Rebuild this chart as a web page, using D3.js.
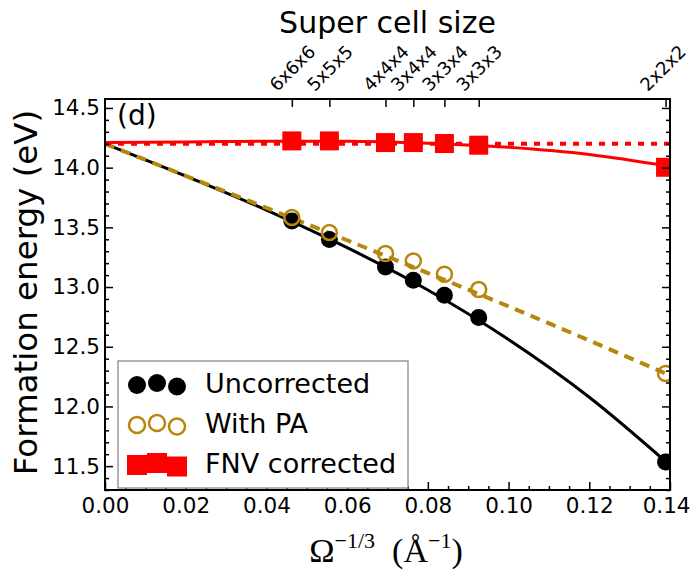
<!DOCTYPE html>
<html>
<head>
<meta charset="utf-8">
<script src="https://cdn.jsdelivr.net/npm/d3@7"></script>
<style>
  html, body { margin: 0; padding: 0; background: #fff; }
  svg { display: block; }
  text { font-family: "DejaVu Sans", sans-serif; fill: #000; }
</style>
</head>
<body>
<svg id="chart" width="691" height="576"></svg>
<script>
// Super cells and their inverse cell length Ω^(-1/3) (Å^-1)
const supercells = ["6x6x6", "5x5x5", "4x4x4", "3x4x4", "3x3x4", "3x3x3", "2x2x2"];
const invCellLength = [0.0463, 0.0556, 0.0695, 0.0764, 0.0841, 0.0926, 0.1389];

// Formation energies (eV)
const uncorrected  = [13.554, 13.398, 13.168, 13.057, 12.931, 12.745, 11.535];
const withPA       = [13.582, 13.456, 13.281, 13.219, 13.107, 12.979, 12.276];
const fnvCorrected = [14.224, 14.224, 14.210, 14.210, 14.202, 14.188, 14.003];

// Fitted curves, sampled along Ω^(-1/3)
const fitX           = [0, 0.02, 0.04, 0.06, 0.08, 0.10, 0.12, 0.14];
const uncorrectedFit = [14.200, 13.930, 13.645, 13.330, 12.975, 12.560, 12.077, 11.507];
const withPAFit      = [14.200, 13.932, 13.663, 13.392, 13.117, 12.838, 12.552, 12.260];
const fnvFit         = [14.210, 14.215, 14.222, 14.222, 14.205, 14.170, 14.110, 14.010];
const extrapolatedX  = [0, 0.14];
const extrapolatedE  = [14.2, 14.2];

// Axis ticks
const xTicks = [0, 0.02, 0.04, 0.06, 0.08, 0.10, 0.12, 0.14];
const yTicks = [11.5, 12.0, 12.5, 13.0, 13.5, 14.0, 14.5];

const svg = d3.select("#chart");
const W = 691;
const L = 105, R = 670, T = 99, B = 490;

const x = d3.scaleLinear().domain([0, 0.14]).range([L, R]);
const y = d3.scaleLinear().domain([11.3, 14.575]).range([B, T]);

const xMinor = d3.range(0, 0.1401, 0.005).filter(v => !xTicks.some(t => Math.abs(t - v) < 1e-9));
const yMinor = d3.range(11.3, 14.5501, 0.1).map(v => +v.toFixed(2)).filter(v => !yTicks.some(t => Math.abs(t - v) < 1e-9));

svg.append("defs").append("clipPath").attr("id", "plotClip")
  .append("rect").attr("x", L).attr("y", T).attr("width", R - L).attr("height", B - T);

const plot = svg.append("g").attr("clip-path", "url(#plotClip)");

const line = d3.line().curve(d3.curveMonotoneX);
const pts = (xs, ys) => xs.map((v, i) => [x(v), y(ys[i])]);

// Fit curves
plot.append("path").attr("d", line(pts(fitX, uncorrectedFit)))
  .attr("fill", "none").attr("stroke", "#000").attr("stroke-width", 3);
plot.append("path").attr("d", line(pts(fitX, withPAFit)))
  .attr("fill", "none").attr("stroke", "#b8860b").attr("stroke-width", 4)
  .attr("stroke-dasharray", "10,7");
plot.append("path").attr("d", line(pts(extrapolatedX, extrapolatedE)))
  .attr("fill", "none").attr("stroke", "#ff0000").attr("stroke-width", 4)
  .attr("stroke-dasharray", "6,7");
plot.append("path").attr("d", line(pts(fitX, fnvFit)))
  .attr("fill", "none").attr("stroke", "#ff0000").attr("stroke-width", 3);

// Markers
plot.selectAll("circle.unc").data(uncorrected).join("circle").attr("class", "unc")
  .attr("cx", (d, i) => x(invCellLength[i])).attr("cy", d => y(d))
  .attr("r", 8.5).attr("fill", "#000");
plot.selectAll("circle.pa").data(withPA).join("circle").attr("class", "pa")
  .attr("cx", (d, i) => x(invCellLength[i])).attr("cy", d => y(d))
  .attr("r", 7.5).attr("fill", "none").attr("stroke", "#b8860b").attr("stroke-width", 2.5);
const sq = 19;
plot.selectAll("rect.fnv").data(fnvCorrected).join("rect").attr("class", "fnv")
  .attr("x", (d, i) => x(invCellLength[i]) - sq / 2).attr("y", d => y(d) - sq / 2)
  .attr("width", sq).attr("height", sq).attr("fill", "#ff0000");

// Axes (ticks pointing inward)
const styleAxis = g => {
  g.select(".domain").remove();
  g.selectAll(".tick line").attr("stroke", "#000").attr("stroke-width", 1.5);
  g.selectAll(".tick text").attr("font-size", 21.5).attr("font-family", "DejaVu Sans");
};

const bottomAxis = svg.append("g").attr("transform", `translate(0,${B})`)
  .call(d3.axisBottom(x).tickValues(xTicks).tickFormat(d3.format(".2f")).tickSize(-8).tickSizeOuter(0).tickPadding(8))
  .call(styleAxis);
// keep the last label inside the page
bottomAxis.selectAll(".tick text").each(function (d) {
  const t = d3.select(this);
  const box = this.getBBox();
  const right = x(d) + box.x + box.width;
  if (right > W - 1) t.attr("x", (W - 1) - right);
});
svg.append("g").attr("transform", `translate(0,${B})`)
  .call(d3.axisBottom(x).tickValues(xMinor).tickFormat("").tickSize(-4).tickSizeOuter(0))
  .call(styleAxis);

svg.append("g").attr("transform", `translate(${L},0)`)
  .call(d3.axisLeft(y).tickValues(yTicks).tickFormat(d3.format(".1f")).tickSize(-8).tickSizeOuter(0).tickPadding(5))
  .call(styleAxis);
svg.append("g").attr("transform", `translate(${L},0)`)
  .call(d3.axisLeft(y).tickValues(yMinor).tickFormat("").tickSize(-4).tickSizeOuter(0))
  .call(styleAxis);

svg.append("g").attr("transform", `translate(${R},0)`)
  .call(d3.axisRight(y).tickValues(yTicks).tickFormat("").tickSize(-8).tickSizeOuter(0))
  .call(styleAxis);
svg.append("g").attr("transform", `translate(${R},0)`)
  .call(d3.axisRight(y).tickValues(yMinor).tickFormat("").tickSize(-4).tickSizeOuter(0))
  .call(styleAxis);

// Top axis: super cell sizes, labels rotated 45°
const topAxis = svg.append("g").attr("transform", `translate(0,${T})`)
  .call(d3.axisTop(x).tickValues(invCellLength).tickFormat((d, i) => supercells[i]).tickSize(-8).tickSizeOuter(0))
  .call(styleAxis);
topAxis.selectAll(".tick text")
  .attr("font-size", 18)
  .attr("text-anchor", "middle")
  .attr("dy", "0.35em")
  .attr("y", 0)
  .attr("transform", "translate(0,-31) rotate(-45)")
  .each(function (d) {
    const r = this.getBoundingClientRect();
    if (r.right > W - 1) {
      d3.select(this).attr("transform", `translate(${(W - 1) - r.right},-31) rotate(-45)`);
    }
  });

// Frame
svg.append("rect").attr("x", L).attr("y", T).attr("width", R - L).attr("height", B - T)
  .attr("fill", "none").attr("stroke", "#000").attr("stroke-width", 2);

// Titles and labels
svg.append("text").attr("x", (L + R) / 2).attr("y", 33).attr("text-anchor", "middle")
  .attr("font-size", 30).text("Super cell size");

svg.append("text").attr("transform", `translate(37,${(T + B) / 2 - 2}) rotate(-90)`)
  .attr("text-anchor", "middle").attr("font-size", 32.5).text("Formation energy (eV)");

svg.append("text").attr("x", 117).attr("y", 125).attr("font-size", 28).text("(d)");

const xl = svg.append("text").attr("x", 386).attr("y", 562).attr("text-anchor", "middle")
  .style("font-family", "'Liberation Serif', 'DejaVu Serif', serif").attr("font-size", 34);
xl.append("tspan").text("Ω");
xl.append("tspan").attr("font-size", 22).attr("dy", -14).text("−1/3");
xl.append("tspan").attr("dy", 14).text("\u2002(Å");
xl.append("tspan").attr("font-size", 22).attr("dy", -14).text("−1");
xl.append("tspan").attr("dy", 14).text(")");

// Legend
const lg = svg.append("g");
lg.append("rect").attr("x", 118).attr("y", 361).attr("width", 290).attr("height", 127)
  .attr("fill", "#fff").attr("stroke", "#808080").attr("stroke-width", 1.2);
const legendRows = [
  { label: "Uncorrected", kind: "unc" },
  { label: "With PA", kind: "pa" },
  { label: "FNV corrected", kind: "fnv" }
];
const handleX = [137, 157, 177];
const handleDy = [2, 0, 3.5];
legendRows.forEach((row, r) => {
  const cy = 383 + r * 40;
  handleX.forEach((hx, k) => {
    const hy = cy + handleDy[k];
    if (row.kind === "unc") {
      lg.append("circle").attr("cx", hx).attr("cy", hy).attr("r", 9).attr("fill", "#000");
    } else if (row.kind === "pa") {
      lg.append("circle").attr("cx", hx).attr("cy", hy).attr("r", 8).attr("fill", "none")
        .attr("stroke", "#b8860b").attr("stroke-width", 2.5);
    } else {
      lg.append("rect").attr("x", hx - 10).attr("y", hy - 10).attr("width", 20).attr("height", 20)
        .attr("fill", "#ff0000");
    }
  });
  lg.append("text").attr("x", 205).attr("y", cy + 10).attr("font-size", 27).text(row.label);
});
</script>
</body>
</html>
